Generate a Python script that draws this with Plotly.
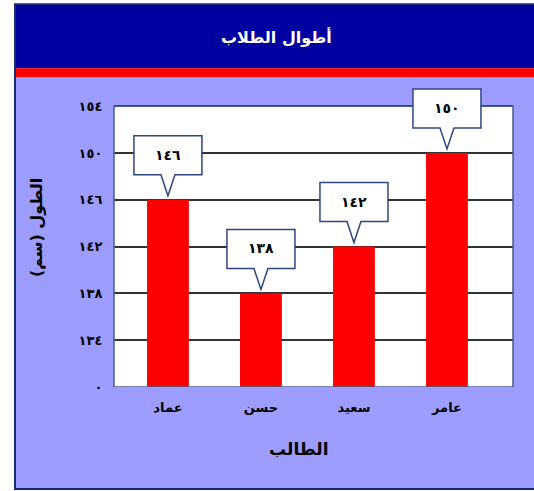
import plotly.graph_objects as go

# ---- data ----
students = ["عماد", "حسن", "سعيد", "عامر"]
heights = [146, 138, 142, 150]
height_labels = ["١٤٦", "١٣٨", "١٤٢", "١٥٠"]
y_tick_vals = [130, 134, 138, 142, 146, 150, 154]
y_tick_labels = ["٠", "١٣٤", "١٣٨", "١٤٢", "١٤٦", "١٥٠", "١٥٤"]
chart_title = "أطوال الطلاب"
x_title = "الطالب"
y_title = "الطول (سم)"

# ---- layout geometry (pixels) ----
W, H = 534, 491
Y_MIN, Y_MAX, Y_EXT = 130, 154, 160          # visible axis top is 154; extra headroom for callouts
PLOT_L, PLOT_R, PLOT_T, PLOT_B = 114, 513, 106, 387
unit = (PLOT_B - PLOT_T) / (Y_MAX - Y_MIN)
top_px = PLOT_T - (Y_EXT - Y_MAX) * unit
L, R, T, B = PLOT_L, W - PLOT_R, top_px, H - PLOT_B
PW, PH = W - L - R, H - T - B
FONT = "DejaVu Sans"


def px_x(p):
    return (p - L) / PW


def px_y(p):
    return (H - B - p) / PH


fig = go.Figure()
fig.add_trace(go.Bar(
    x=list(range(len(students))), y=heights,
    marker=dict(color="#FF0000", line=dict(width=0)),
    width=0.45, hoverinfo="skip",
))

shapes = [
    # periwinkle frame body
    dict(type="rect", xref="paper", yref="paper", x0=px_x(14), x1=px_x(540),
         y0=px_y(77), y1=px_y(490), fillcolor="#9D9DFF", line=dict(width=0), layer="below"),
    # title bar
    dict(type="rect", xref="paper", yref="paper", x0=px_x(14), x1=px_x(540),
         y0=px_y(68), y1=px_y(4), fillcolor="#0000A0", line=dict(width=0), layer="below"),
    # red stripe
    dict(type="rect", xref="paper", yref="paper", x0=px_x(14), x1=px_x(540),
         y0=px_y(77), y1=px_y(68), fillcolor="#FF0000", line=dict(width=0), layer="below"),
    # outer frame border
    dict(type="rect", xref="paper", yref="paper", x0=px_x(15), x1=px_x(540),
         y0=px_y(489), y1=px_y(4), fillcolor="rgba(0,0,0,0)",
         line=dict(color="#1A2A6A", width=2), layer="below"),
    # white plot area (axis range 130..154)
    dict(type="rect", xref="paper", yref="y", x0=0, x1=1, y0=Y_MIN, y1=Y_MAX,
         fillcolor="white", line=dict(width=0), layer="below"),
    # plot area border
    dict(type="rect", xref="paper", yref="y", x0=0, x1=1, y0=Y_MIN, y1=Y_MAX,
         fillcolor="rgba(0,0,0,0)", line=dict(color="#4A5A8A", width=1.5), layer="above"),
]

annotations = [
    dict(text="<b>" + chart_title + "</b>", xref="paper", yref="paper", x=px_x(276), y=px_y(37),
         xanchor="center", yanchor="middle",
         showarrow=False, font=dict(family=FONT, size=16, color="white")),
    dict(text="<b>" + x_title + "</b>", xref="paper", yref="paper", x=px_x(299), y=px_y(449),
         xanchor="center", yanchor="middle",
         showarrow=False, font=dict(family=FONT, size=17, color="black")),
    dict(text="<b>" + y_title + "</b>", xref="paper", yref="paper", x=px_x(36), y=px_y(228),
         xanchor="center", yanchor="middle",
         showarrow=False, textangle=-90, font=dict(family=FONT, size=16, color="black")),
]

# callouts
for i, (v, lab) in enumerate(zip(heights, height_labels)):
    shapes.append(dict(
        type="path", xref="x", yref="y", xsizemode="pixel", ysizemode="pixel",
        xanchor=i, yanchor=v,
        path="M -34,25 L -7,25 L 0,4 L 7,25 L 34,25 L 34,64 L -34,64 Z",
        fillcolor="white", line=dict(color="#2E4680", width=1.5), layer="above",
    ))
    annotations.append(dict(
        text="<b>" + lab + "</b>", x=i, y=v, xref="x", yref="y", yshift=45,
        xanchor="center", yanchor="middle",
        showarrow=False, font=dict(family=FONT, size=14, color="black"),
    ))

fig.update_layout(
    width=W, height=H,
    margin=dict(l=L, r=R, t=T, b=B, pad=0),
    paper_bgcolor="white", plot_bgcolor="rgba(0,0,0,0)",
    showlegend=False,
    shapes=shapes, annotations=annotations,
    font=dict(family=FONT, color="black"),
)
fig.update_xaxes(
    range=[-0.58, 3.71], tickmode="array", tickvals=list(range(len(students))),
    ticktext=["<b>" + s + "</b>" for s in students],
    tickfont=dict(family=FONT, size=13, color="black"),
    ticks="outside", ticklen=8, tickcolor="rgba(0,0,0,0)",
    showgrid=False, zeroline=False, showline=False,
    fixedrange=True,
)
fig.update_yaxes(
    range=[Y_MIN, Y_EXT], tickmode="array", tickvals=y_tick_vals,
    ticktext=["<b>" + t + "</b>" for t in y_tick_labels],
    tickfont=dict(family=FONT, size=13, color="black"),
    ticks="outside", ticklen=8, tickcolor="rgba(0,0,0,0)",
    showgrid=True, gridcolor="#333333", gridwidth=1.5, zeroline=False, showline=False,
    fixedrange=True,
)

fig.write_html(
    "out.html",
    config={"displayModeBar": False},
    post_script="document.body.style.margin='0';document.body.style.padding='0';",
)
